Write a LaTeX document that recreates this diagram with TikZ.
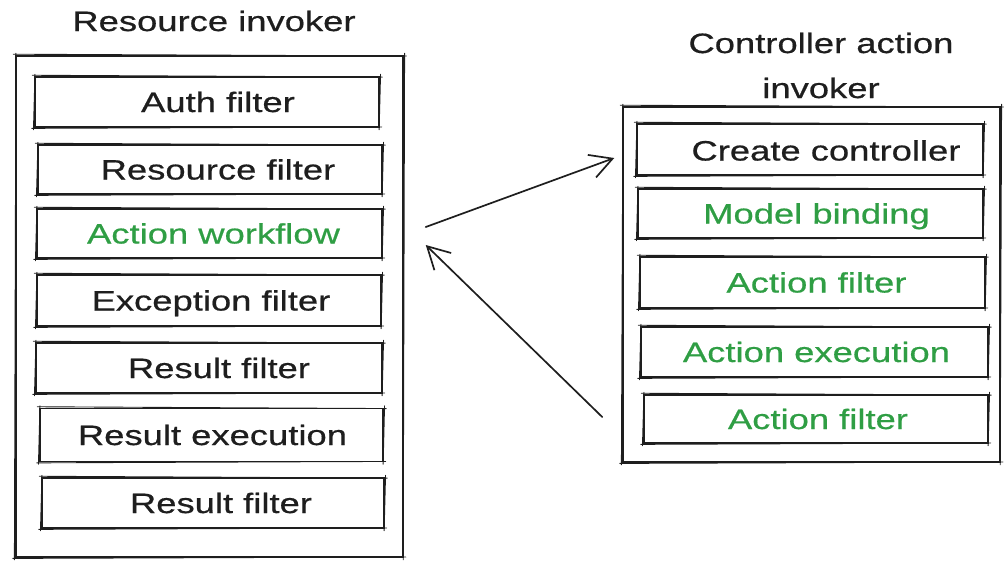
\documentclass[tikz,border=0pt]{standalone}
\usepackage{fontspec}
\setmainfont{Liberation Sans}[FakeStretch=1.3, FakeBold=0.6]
\usetikzlibrary{arrows.meta,calc}

\definecolor{ink}{HTML}{1E1E1E}
\definecolor{leaf}{HTML}{2F9E44}

% second, slightly offset pass over a box outline for a hand-drawn look
\newcommand\roughframe[1]{%
  \draw[overstroke] ([shift={(-2,1)}]#1.north west) -- ([shift={(2.5,-0.8)}]#1.north east);
  \draw[overstroke] ([shift={(0.8,2)}]#1.north east) -- ([shift={(-0.6,-2)}]#1.south east);
  \draw[overstroke] ([shift={(2,0.8)}]#1.south east) -- ([shift={(-2.5,-0.6)}]#1.south west);
  \draw[overstroke] ([shift={(-0.8,-2)}]#1.south west) -- ([shift={(0.7,2)}]#1.north west);
}

\tikzset{
  x=1pt, y=1pt,
  frame/.style={draw=ink, line width=1.6pt, inner sep=0pt},
  stage/.style={draw=ink, line width=1.5pt, inner sep=0pt,
    minimum width=344pt, minimum height=50pt},
  overstroke/.style={draw=ink, line width=0.9pt, line cap=round},
  caption/.style={font=\fontsize{28}{45}\selectfont, text=ink, inner sep=0pt, anchor=base},
  greencap/.style={caption, text=leaf},
  heading/.style={font=\fontsize{28}{45}\selectfont, text=ink, inner sep=0pt, align=center},
  flow/.style={draw=ink, line width=1.7pt, line cap=round,
    -{Straight Barb[length=22pt, width=24pt, line width=1.7pt]}},
}

\begin{document}
\begin{tikzpicture}
\useasboundingbox (0,0) rectangle (1004,-560);

% ---------- Resource invoker ----------
\node[heading, anchor=base] (rtitle) at (214,-31) {Resource invoker};
\node[frame, minimum width=387pt, minimum height=501pt] (rbox) at (209.5,-306.5) {};
\roughframe{rbox}

\node[stage] (auth) at (207,-102) {};
\node[stage, minimum height=49pt] (res) at (210,-169.5) {};
\node[stage, minimum width=345pt, minimum height=49pt] (aw) at (209.5,-233.5) {};
\node[stage, minimum height=51pt] (exc) at (209,-300.5) {};
\node[stage, minimum width=346pt] (rf1) at (209,-368) {};
\node[stage, minimum width=343pt, minimum height=53pt] (rex) at (211.5,-435) {};
\node[stage, minimum width=342pt] (rf2) at (213,-503) {};
\foreach \b in {auth,res,aw,exc,rf1,rex,rf2} {\roughframe{\b}}

\node[caption]  (tauth) at ($(auth.center)+(11,-10)$) {Auth filter};
\node[caption]  (tres)  at ($(res.center)+(8,-10)$)   {Resource filter};
\node[greencap] (taw)   at ($(aw.center)+(4,-10)$)    {Action workflow};
\node[caption]  (texc)  at ($(exc.center)+(2,-10)$)   {Exception filter};
\node[caption]  (trf1)  at ($(rf1.center)+(10,-10)$)  {Result filter};
\node[caption]  (trex)  at ($(rex.center)+(1,-10)$)   {Result execution};
\node[caption]  (trf2)  at ($(rf2.center)+(8,-10)$)   {Result filter};

% ---------- Controller action invoker ----------
\node[heading] (ctitle) at (821,-65.5) {Controller action\\invoker};
\node[frame, minimum width=377pt, minimum height=355pt] (cbox) at (811.5,-284.5) {};
\roughframe{cbox}

\node[stage, minimum width=346pt, minimum height=51pt] (cc) at (810,-149.5) {};
\node[stage, minimum width=345pt, minimum height=49pt] (mb) at (810.5,-213.5) {};
\node[stage, minimum width=345pt, minimum height=51pt] (af1) at (812.5,-282.5) {};
\node[stage, minimum width=347pt] (ae) at (814.5,-352) {};
\node[stage, minimum height=48pt] (af2) at (816,-419) {};
\foreach \b in {cc,mb,af1,ae,af2} {\roughframe{\b}}

\node[caption]  (tcc)  at ($(cc.center)+(16,-11)$)  {Create controller};
\node[greencap] (tmb)  at ($(mb.center)+(6,-10)$)   {Model binding};
\node[greencap] (taf1) at ($(af1.center)+(4,-10)$)  {Action filter};
\node[greencap] (tae)  at ($(ae.center)+(2,-10)$)   {Action execution};
\node[greencap] (taf2) at ($(af2.center)+(2,-10)$)  {Action filter};

% ---------- calls between the invokers ----------
\coordinate (callout) at ($(aw.east)+(43,6.5)$);
\coordinate (callin)  at ($(cc.west)+(-22,-8.5)$);
\coordinate (retout)  at ($(af2.west)+(-41,2)$);
\coordinate (retin)   at ($(aw.east)+(43,-11.5)$);

\draw[flow] (callout) -- (callin);
\draw[flow] (retout) -- (retin);
\end{tikzpicture}
\end{document}
